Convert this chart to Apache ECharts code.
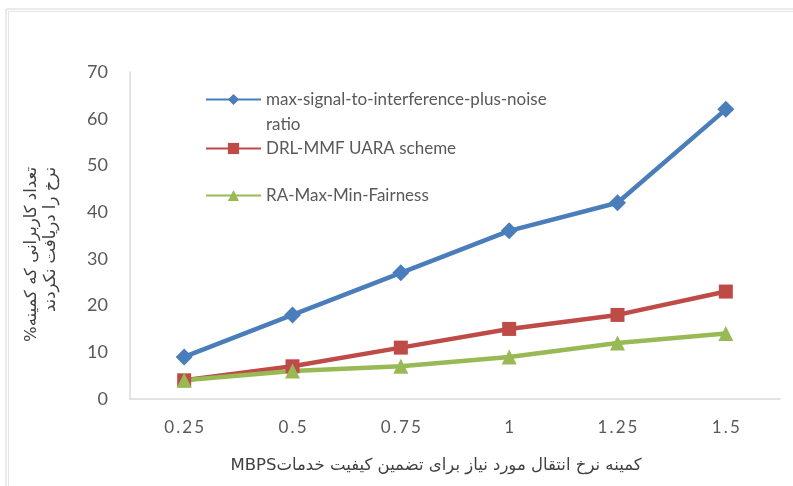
<!DOCTYPE html>
<html>
<head>
<meta charset="utf-8">
<script src="https://cdn.jsdelivr.net/npm/echarts@6/dist/echarts.min.js"></script>
<style>
  html, body { margin: 0; padding: 0; background: #fff; }
  #chart { width: 793px; height: 486px; }
</style>
</head>
<body>
<div id="chart"></div>
<script>
// data
const rates = ['0.25', '0.5', '0.75', '1', '1.25', '1.5']
const seriesNames = ['max-signal-to-interference-plus-noise ratio', 'DRL-MMF UARA scheme', 'RA-Max-Min-Fairness']
const sinrValues = [9, 18, 27, 36, 42, 62]
const drlValues = [4, 7, 11, 15, 18, 23]
const fairValues = [4, 6, 7, 9, 12, 14]
const yTitle = '%تعداد کاربرانی که کمینه\nنرخ را دریافت نکردند'
const xTitle = 'MBPSکمینه نرخ انتقال مورد نیاز برای تضمین کیفیت خدمات'

const BLUE = '#4A7EBB'
const RED = '#BE4B48'
const GREEN = '#98B954'
const TXT = '#595959'
const LATIN = 'Lato, "Open Sans", sans-serif'
const ARABIC = '"DejaVu Sans", sans-serif'

let myChart = echarts.init(document.getElementById('chart'))

function makeSeries (name, data, color, symbol, size) {
  return {
    name: name,
    type: 'line',
    data: data,
    color: color,
    symbol: symbol,
    symbolSize: size,
    lineStyle: { width: 4.5, color: color },
    itemStyle: { color: color },
    emphasis: { disabled: true }
  }
}

function legendItem (name, top, extra) {
  return Object.assign({
    data: [name],
    left: 205,
    top: top,
    orient: 'vertical',
    padding: 0,
    itemWidth: 55,
    itemHeight: 14,
    selectedMode: false,
    textStyle: { color: TXT, fontSize: 17, fontFamily: LATIN }
  }, extra || {})
}

myChart.setOption({
  animation: false,
  backgroundColor: '#fff',
  grid: {
    left: 130,
    right: 13,
    top: 72,
    bottom: 87,
    containLabel: false
  },
  legend: [
    // blank first line so the icon sits beside the first line of the wrapped name
    legendItem(seriesNames[0], 62, {
      formatter: function () { return '\u00a0\nmax-signal-to-interference-plus-noise\nratio' },
      textStyle: { color: TXT, fontSize: 17, fontFamily: LATIN, lineHeight: 25 }
    }),
    legendItem(seriesNames[1], 140),
    legendItem(seriesNames[2], 187)
  ],
  xAxis: {
    type: 'category',
    boundaryGap: true,
    data: rates,
    axisLine: { lineStyle: { color: '#d9d9d9', width: 1.5 } },
    axisTick: { show: false },
    axisLabel: {
      color: TXT,
      fontSize: 17,
      fontFamily: LATIN,
      margin: 20,
      formatter: function (v) { return v.split('').join('\u2009') }
    }
  },
  yAxis: {
    type: 'value',
    min: 0,
    max: 70,
    interval: 10,
    splitLine: { show: false },
    axisLine: { show: true, lineStyle: { color: '#d9d9d9', width: 1.5 } },
    axisTick: { show: false },
    axisLabel: { color: TXT, fontSize: 18, fontFamily: LATIN, margin: 22 }
  },
  graphic: [
    {
      type: 'rect',
      silent: true,
      shape: { x: 6, y: 9, width: 900, height: 600 },
      style: { fill: 'none', stroke: '#d6d6d6', lineWidth: 1 }
    },
    {
      type: 'rect',
      silent: true,
      shape: { x: 8.5, y: 11.5, width: 900, height: 600 },
      style: { fill: 'none', stroke: '#e4e4e4', lineWidth: 1 }
    },
    {
      type: 'text',
      x: 41,
      y: 167,
      rotation: Math.PI / 2,
      silent: true,
      style: {
        text: yTitle,
        align: 'right',
        verticalAlign: 'middle',
        fontSize: 16.5,
        lineHeight: 19,
        fontFamily: ARABIC,
        fill: '#404040'
      }
    },
    {
      type: 'text',
      x: 436,
      y: 466,
      silent: true,
      style: {
        text: xTitle,
        align: 'center',
        verticalAlign: 'middle',
        fontSize: 16.5,
        fontFamily: ARABIC,
        fill: '#404040'
      }
    }
  ],
  series: [
    makeSeries(seriesNames[0], sinrValues, BLUE, 'diamond', 17),
    makeSeries(seriesNames[1], drlValues, RED, 'rect', 14),
    makeSeries(seriesNames[2], fairValues, GREEN, 'triangle', 15)
  ]
})
</script>
</body>
</html>
